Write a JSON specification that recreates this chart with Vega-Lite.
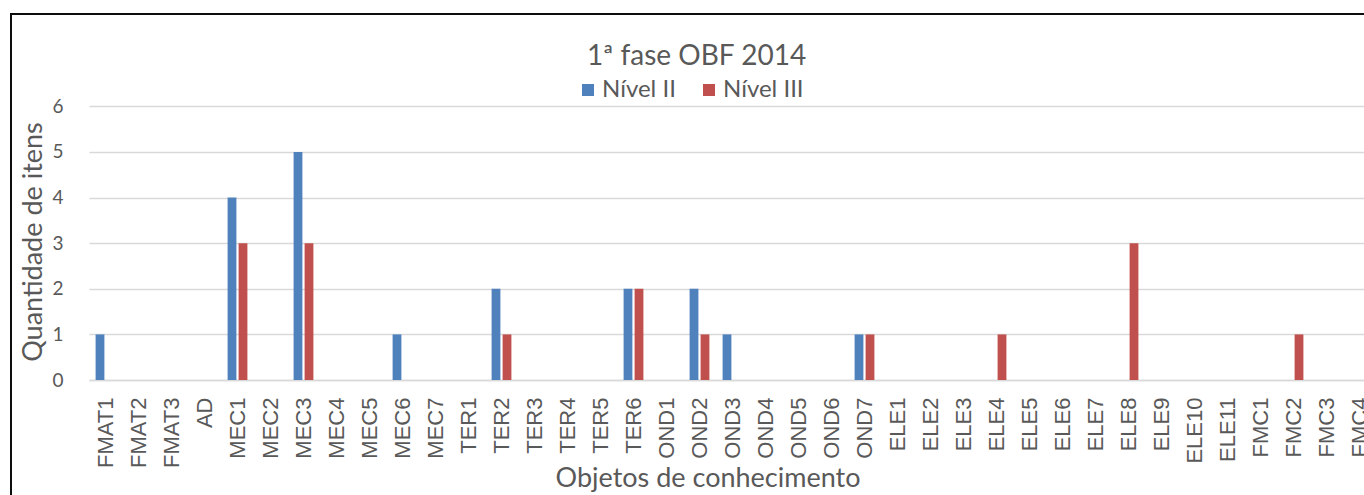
{
  "$schema": "https://vega.github.io/schema/vega-lite/v6.json",
  "autosize": {"type": "none"},
  "padding": {"left": 11, "top": 14, "right": -8, "bottom": -8},
  "width": 1361,
  "height": 489,
  "background": "white",
  "title": {"text": "1ª fase OBF 2014", "anchor": "middle", "frame": "group", "baseline": "alphabetic", "offset": -79, "dx": 5, "font": "Lato", "fontSize": 28, "fontWeight": "normal", "color": "#595959"},
  "data": {"values": [
    {"objeto": "FMAT1", "nivel": "Nível II", "quantidade": 1},
    {"objeto": "MEC1", "nivel": "Nível II", "quantidade": 4},
    {"objeto": "MEC1", "nivel": "Nível III", "quantidade": 3},
    {"objeto": "MEC3", "nivel": "Nível II", "quantidade": 5},
    {"objeto": "MEC3", "nivel": "Nível III", "quantidade": 3},
    {"objeto": "MEC6", "nivel": "Nível II", "quantidade": 1},
    {"objeto": "TER2", "nivel": "Nível II", "quantidade": 2},
    {"objeto": "TER2", "nivel": "Nível III", "quantidade": 1},
    {"objeto": "TER6", "nivel": "Nível II", "quantidade": 2},
    {"objeto": "TER6", "nivel": "Nível III", "quantidade": 2},
    {"objeto": "OND2", "nivel": "Nível II", "quantidade": 2},
    {"objeto": "OND2", "nivel": "Nível III", "quantidade": 1},
    {"objeto": "OND3", "nivel": "Nível II", "quantidade": 1},
    {"objeto": "OND7", "nivel": "Nível II", "quantidade": 1},
    {"objeto": "OND7", "nivel": "Nível III", "quantidade": 1},
    {"objeto": "ELE4", "nivel": "Nível III", "quantidade": 1},
    {"objeto": "ELE8", "nivel": "Nível III", "quantidade": 3},
    {"objeto": "FMC2", "nivel": "Nível III", "quantidade": 1}
  ]},
  "mark": {"type": "bar"},
  "encoding": {
    "x": {
      "field": "objeto", "type": "nominal", "sort": null,
      "scale": {
        "domain": ["FMAT1","FMAT2","FMAT3","AD","MEC1","MEC2","MEC3","MEC4","MEC5","MEC6","MEC7","TER1","TER2","TER3","TER4","TER5","TER6","OND1","OND2","OND3","OND4","OND5","OND6","OND7","ELE1","ELE2","ELE3","ELE4","ELE5","ELE6","ELE7","ELE8","ELE9","ELE10","ELE11","FMC1","FMC2","FMC3","FMC4"],
        "range": [78, 1365], "paddingInner": 0.4, "paddingOuter": 0.2
      },
      "axis": {
        "orient": "bottom", "offset": -123, "domain": true, "domainColor": "#d9d9d9", "domainWidth": 1.5,
        "ticks": false, "tickSize": 0, "grid": false,
        "labelAngle": 270, "labelAlign": "right", "labelBaseline": "middle", "labelPadding": 17,
        "labelFont": "Liberation Sans", "labelFontSize": 22, "labelColor": "#595959", "labelOverlap": false,
        "title": "Objetos de conhecimento", "titleFont": "Lato", "titleFontSize": 27, "titleFontWeight": "normal",
        "titleColor": "#595959", "titleX": 696.5, "titlePadding": -2
      }
    },
    "xOffset": {"field": "nivel", "type": "nominal", "scale": {"domain": ["Nível II", "Nível III"], "paddingInner": 0.2, "paddingOuter": 0}},
    "y": {
      "field": "quantidade", "type": "quantitative",
      "scale": {"domain": [-2.697, 8.026], "nice": false, "zero": false},
      "axis": {
        "orient": "left", "offset": -78, "values": [0, 1, 2, 3, 4, 5, 6],
        "grid": true, "gridColor": "#d9d9d9", "gridWidth": 1.5,
        "domain": false, "ticks": false, "tickSize": 0, "labelPadding": 26,
        "labelFont": "Lato", "labelFontSize": 19, "labelColor": "#595959",
        "title": "Quantidade de itens", "titleFont": "Lato", "titleFontSize": 27, "titleFontWeight": "normal",
        "titleColor": "#595959", "titleY": 227.5, "titlePadding": 4
      }
    },
    "color": {
      "field": "nivel", "type": "nominal",
      "scale": {"domain": ["Nível II", "Nível III"], "range": ["#4F81BD", "#C0504D"]},
      "legend": {
        "orient": "none", "legendX": 565, "legendY": 64, "direction": "horizontal", "title": null,
        "symbolType": "square", "symbolSize": 144, "symbolStrokeWidth": 0,
        "labelFont": "Lato", "labelFontSize": 24, "labelColor": "#595959", "labelOffset": 2,
        "columnPadding": 21, "padding": 0
      }
    }
  },
  "config": {"view": {"stroke": "#0d0d0d", "strokeWidth": 2}}
}
